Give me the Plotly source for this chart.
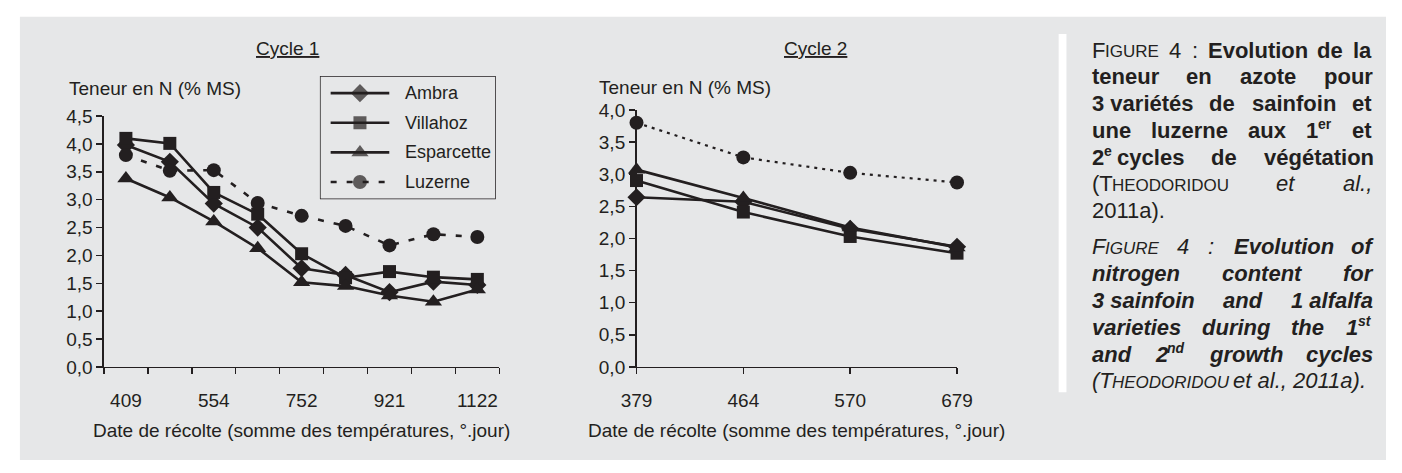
import plotly.graph_objects as go

# ---------------- data ----------------
cycle1_dates = ["409", "", "554", "", "752", "", "921", "", "1122"]
cycle1_ambra = [3.98, 3.68, 2.93, 2.50, 1.77, 1.65, 1.34, 1.53, 1.47]
cycle1_villahoz = [4.10, 4.01, 3.13, 2.74, 2.03, 1.60, 1.71, 1.61, 1.57]
cycle1_esparcette = [3.38, 3.04, 2.61, 2.13, 1.52, 1.45, 1.28, 1.17, 1.39]
cycle1_luzerne = [3.80, 3.52, 3.53, 2.94, 2.71, 2.53, 2.18, 2.38, 2.33]

cycle2_dates = ["379", "464", "570", "679"]
cycle2_ambra = [2.64, 2.57, 2.15, 1.87]
cycle2_villahoz = [2.90, 2.41, 2.03, 1.77]
cycle2_esparcette = [3.07, 2.63, 2.17, 1.86]
cycle2_luzerne = [3.80, 3.26, 3.02, 2.87]

series_names = ["Ambra", "Villahoz", "Esparcette", "Luzerne"]
panel_titles = ["Cycle 1", "Cycle 2"]
y_title = "Teneur en N (% MS)"
x_title = "Date de récolte (somme des températures, °.jour)"

# ---------------- geometry helpers ----------------
W, H = 1402, 473
INK = "#231f20"
BG = "#e6e7e8"
FONT = "Liberation Sans, Arial, sans-serif"
FS = 19


def px(x):
    return x / W


def py(y):
    return 1 - y / H


fig = go.Figure()

styles = {
    "Ambra": dict(symbol="diamond", size=14),
    "Villahoz": dict(symbol="square", size=13),
    "Esparcette": dict(symbol="triangle-up", size=15),
    "Luzerne": dict(symbol="circle", size=14),
}
dash1 = {"Luzerne": "6px,10px"}
dash2 = {"Luzerne": "3px,5px"}

c1 = dict(zip(series_names, [cycle1_ambra, cycle1_villahoz, cycle1_esparcette, cycle1_luzerne]))
c2 = dict(zip(series_names, [cycle2_ambra, cycle2_villahoz, cycle2_esparcette, cycle2_luzerne]))

x1 = list(range(len(cycle1_dates)))
x2 = list(range(len(cycle2_dates)))

for name in series_names:
    st = styles[name]
    fig.add_trace(go.Scatter(
        x=x1, y=c1[name], name=name, mode="lines+markers",
        line=dict(color=INK, width=2.6, dash=dash1.get(name, "solid")),
        marker=dict(symbol=st["symbol"], size=st["size"], color=INK),
        xaxis="x", yaxis="y", cliponaxis=False, showlegend=False,
    ))

for name in series_names:
    st = styles[name]
    fig.add_trace(go.Scatter(
        x=x2, y=c2[name], name=name, mode="lines+markers",
        line=dict(color=INK, width=2.6 if name != "Luzerne" else 2.2, dash=dash2.get(name, "solid")),
        marker=dict(symbol=st["symbol"], size=st["size"], color=INK),
        xaxis="x2", yaxis="y2", cliponaxis=False, showlegend=False,
    ))

# legend drawn in its own small axes (box 180 x 129 px)
LEG_W, LEG_H = 180, 129
for i, name in enumerate(series_names):
    st = styles[name]
    row = 18 + 31 * i
    fig.add_trace(go.Scatter(
        x=[11, 41, 71], y=[row] * 3, mode="lines+markers",
        line=dict(color=INK, width=2.6, dash=dash1.get(name, "solid")),
        marker=dict(symbol=st["symbol"], size=[0, st["size"], 0], color=INK, line=dict(width=0)),
        xaxis="x3", yaxis="y3", cliponaxis=False, showlegend=False, hoverinfo="skip",
    ))

tickfont = dict(family=FONT, size=FS, color=INK)
axis_common = dict(showline=True, linecolor=INK, linewidth=1.5, showgrid=False, zeroline=False,
                   tickfont=tickfont)

label_idx = [i for i, d in enumerate(cycle1_dates) if d]
fig.update_layout(
    width=W, height=H,
    margin=dict(l=0, r=0, t=0, b=0),
    paper_bgcolor="white",
    plot_bgcolor="rgba(0,0,0,0)",
    separators=", ",
    font=dict(family=FONT, size=FS, color=INK),
    showlegend=False,
    hovermode=False,
    xaxis=dict(
        domain=[px(90), px(494.6)], range=[-0.5, len(cycle1_dates) - 0.5],
        tickmode="array", tickvals=label_idx, ticktext=[cycle1_dates[i] for i in label_idx],
        ticks="", ticklabelstandoff=16,
        minor=dict(tickmode="array", tickvals=[i - 0.5 for i in range(len(cycle1_dates) + 1)],
                   ticks="outside", ticklen=6, tickwidth=1.5, tickcolor=INK, showgrid=False),
        anchor="y", **axis_common,
    ),
    yaxis=dict(
        domain=[py(373.5), py(111)], range=[0, 4.5], dtick=0.5, tickformat=".1f",
        ticks="outside", ticklen=6, tickwidth=1.5, tickcolor=INK, anchor="x", **axis_common,
    ),
    xaxis2=dict(
        domain=[px(635), px(963)], range=[0, len(cycle2_dates) - 1],
        tickmode="array", tickvals=x2, ticktext=cycle2_dates,
        ticks="outside", ticklen=6, tickwidth=1.5, tickcolor=INK, ticklabelstandoff=10,
        anchor="y2", **axis_common,
    ),
    yaxis2=dict(
        domain=[py(373.5), py(104.5)], range=[0, 4], dtick=0.5, tickformat=".1f",
        ticks="outside", ticklen=6, tickwidth=1.5, tickcolor=INK, anchor="x2", **axis_common,
    ),
    xaxis3=dict(domain=[px(311), px(311 + LEG_W)], range=[0, LEG_W], visible=False,
                anchor="y3", fixedrange=True),
    yaxis3=dict(domain=[py(69 + LEG_H), py(69)], range=[LEG_H, 0], visible=False,
                anchor="x3", fixedrange=True),
)

# background panel + separator bar + legend box
fig.add_shape(type="rect", xref="paper", yref="paper", x0=px(4), x1=1, y0=py(471), y1=py(7),
              fillcolor=BG, line=dict(width=0), layer="below")
fig.add_shape(type="rect", xref="paper", yref="paper", x0=px(1067), x1=px(1075), y0=py(400), y1=py(25),
              fillcolor="white", line=dict(width=0), layer="below")
fig.add_shape(type="rect", xref="x3", yref="y3", x0=0, x1=LEG_W, y0=0, y1=LEG_H,
              line=dict(color=INK, width=1.5), fillcolor="rgba(0,0,0,0)")

ann = []


def add_text(text, x, y, size=FS, xanchor="center", ref="paper", **kw):
    if ref == "paper":
        xx, yy, xr, yr = px(x), py(y), "paper", "paper"
    else:
        xx, yy, xr, yr = x, y, "x3", "y3"
    ann.append(dict(text=text, x=xx, y=yy, xref=xr, yref=yr,
                    xanchor=xanchor, yanchor="middle", showarrow=False,
                    font=dict(family=FONT, size=size, color=INK), **kw))


for i, name in enumerate(series_names):
    add_text(name, 85, 18 + 31 * i, size=18, xanchor="left", ref="x3")

add_text("<u>%s</u>" % panel_titles[0], 278, 40)
add_text("<u>%s</u>" % panel_titles[1], 818, 40)
add_text(y_title, 52, 82, xanchor="left")
add_text(y_title, 595, 81, xanchor="left")
add_text(x_title, (90 + 494.6) / 2, 440)
add_text(x_title, (635 + 963) / 2, 440)

# ---------------- caption (justified, each piece its own text) ----------------
REG = {" ": 278, "(": 333, ")": 333, ",": 278, ".": 278, ":": 278, "°": 400, "%": 889,
       "A": 667, "B": 667, "C": 722, "D": 722, "E": 667, "F": 611, "G": 778, "H": 722, "I": 278,
       "J": 500, "K": 667, "L": 556, "M": 833, "N": 722, "O": 778, "P": 667, "R": 722, "S": 667,
       "T": 611, "U": 722, "V": 667, "a": 556, "b": 556, "c": 500, "d": 556, "e": 556, "f": 278,
       "g": 556, "h": 556, "i": 222, "j": 222, "k": 500, "l": 222, "m": 833, "n": 556, "o": 556,
       "p": 556, "r": 333, "s": 500, "t": 278, "u": 556, "v": 500, "w": 722, "x": 500, "y": 500,
       "z": 500, "é": 556}
BOLD = {" ": 278, "(": 333, ")": 333, ",": 278, ".": 278, ":": 333,
        "A": 722, "C": 722, "D": 722, "E": 667, "F": 611, "G": 778, "H": 722, "I": 278, "O": 778,
        "R": 722, "T": 611, "U": 722, "a": 556, "b": 611, "c": 556, "d": 611, "e": 556, "f": 333,
        "g": 611, "h": 611, "i": 278, "l": 278, "m": 889, "n": 611, "o": 611, "p": 611, "r": 389,
        "s": 556, "t": 333, "u": 611, "v": 556, "w": 778, "x": 556, "y": 556, "z": 500, "é": 556}

CAP = 22
SC_SIZE = 17
SUP_SIZE = 14


def seg_w(text, bold, size):
    tab = BOLD if bold else REG
    return sum(tab.get(ch, 556) for ch in text) / 1000.0 * size


def word(segs, bold=False, italic=False):
    pieces, w = [], 0.0
    for text, kind in segs:
        size = {"n": CAP, "sc": SC_SIZE, "sup": SUP_SIZE}[kind]
        dy = {"n": 0, "sc": 0.35 * (CAP - SC_SIZE), "sup": 0.35 * (CAP - SUP_SIZE) - 9}[kind]
        html = text.replace(" ", "&nbsp;")
        if bold:
            html = "<b>" + html + "</b>"
        if italic:
            html = "<i>" + html + "</i>"
        pieces.append((html, w, dy, size))
        w += seg_w(text, bold, size) + (1 if italic and kind == "sup" else 0)
    return pieces, w


def line(words, y, x0=1100, x1=1386, justify=True):
    if justify and len(words) > 1:
        total = sum(w for _, w in words)
        gap = (x1 - x0 - total) / (len(words) - 1)
    else:
        gap = 0.278 * CAP
    x = x0
    for pieces, w in words:
        for html, off, dy, size in pieces:
            ann.append(dict(text=html, x=px(x + off - 1), y=py(y + dy), xref="paper", yref="paper",
                            xanchor="left", yanchor="middle", showarrow=False,
                            font=dict(family=FONT, size=size, color=INK)))
        x += w + gap


def B(t, it=False):
    return word([(t, "n")], bold=True, italic=it)


def R(t, it=False):
    return word([(t, "n")], italic=it)


STEP = 28
fr_y0 = 42
fr = [
    [word([("F", "n"), ("IGURE", "sc")]), R("4"), R(":"), B("Evolution"), B("de"), B("la")],
    [B("teneur"), B("en"), B("azote"), B("pour")],
    [B("3 variétés"), B("de"), B("sainfoin"), B("et")],
    [B("une"), B("luzerne"), B("aux"), word([("1", "n"), ("er", "sup")], bold=True), B("et")],
    [word([("2", "n"), ("e", "sup"), (" cycles", "n")], bold=True), B("de"), B("végétation")],
    [word([("(T", "n"), ("HEODORIDOU", "sc")]), R("et", True), R("al.,", True)],
]
for k, ws in enumerate(fr):
    line(ws, fr_y0 + k * STEP)
line([R("2011a).")], fr_y0 + 6 * STEP, justify=False)

en_y0 = 248
en = [
    [word([("F", "n"), ("IGURE", "sc")], italic=True), R("4", True), R(":", True),
     B("Evolution", True), B("of", True)],
    [B("nitrogen", True), B("content", True), B("for", True)],
    [B("3 sainfoin", True), B("and", True), B("1 alfalfa", True)],
    [B("varieties", True), B("during", True), B("the", True),
     word([("1", "n"), ("st", "sup")], bold=True, italic=True)],
    [B("and", True), word([("2", "n"), ("nd", "sup")], bold=True, italic=True),
     B("growth", True), B("cycles", True)],
]
for k, ws in enumerate(en):
    line(ws, en_y0 + k * STEP)
line([word([("(T", "n"), ("HEODORIDOU", "sc"), (" et al., 2011a).", "n")], italic=True)],
     en_y0 + 5 * STEP, justify=False)

fig.update_layout(annotations=ann)
fig.write_html("out.html", config={"displayModeBar": False, "staticPlot": True},
               post_script="document.body.style.margin='0';")
